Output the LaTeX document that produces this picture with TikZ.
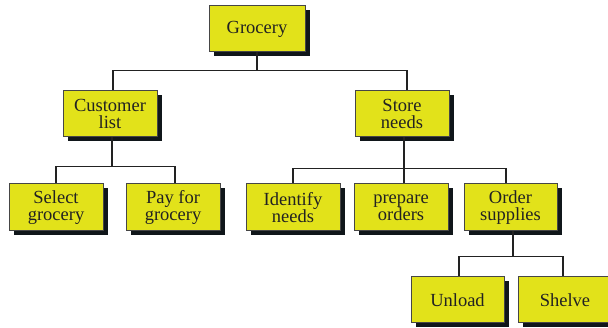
\documentclass[tikz,border=0pt]{standalone}
\usepackage{fontspec}
\setmainfont{Liberation Serif}
\usetikzlibrary{shadows}
\definecolor{boxfill}{RGB}{226,226,26}
\definecolor{boxline}{RGB}{70,70,70}
\definecolor{shadowc}{RGB}{16,22,26}
\definecolor{textc}{RGB}{34,34,34}
\tikzset{
  tbox/.style={draw=boxline, line width=1pt, fill=boxfill, text=textc,
    minimum width=94pt, minimum height=46pt, inner sep=0pt, align=center,
    font=\fontsize{18.5}{17}\selectfont,
    general shadow={fill=shadowc, shadow xshift=5pt, shadow yshift=-4.5pt}},
  conn/.style={draw=textc, line width=1.8pt}
}
\begin{document}
\begin{tikzpicture}[x=1pt,y=-1pt]
\useasboundingbox (0,0) rectangle (608,328);
\node[tbox, minimum width=96pt] (groc) at (257,29) {Grocery};
\node[tbox] (cust) at (110,114) {Customer\\list};
\node[tbox] (store) at (402,114) {Store\\needs};
\node[tbox, minimum height=47pt] (sel) at (56,207.5) {Select\\grocery};
\node[tbox, minimum height=47pt] (pay) at (173,207.5) {Pay for\\grocery};
\node[tbox, minimum height=47pt] (ident) at (293,207.5) {Identify\\needs};
\node[tbox, minimum height=47pt] (prep) at (401,207.5) {prepare\\orders};
\node[tbox, minimum height=47pt, minimum width=93pt] (order) at (510.5,207.5) {Order\\supplies};
\node[tbox, minimum width=93pt] (unload) at (457.5,300) {Unload};
\node[tbox] (shelve) at (565,300) {Shelve};
% connectors
\draw[conn] (groc.south) -- ++(0,18) -| ([xshift=3pt]cust.north);
\draw[conn] (groc.south) -- ++(0,18) -| ([xshift=5pt]store.north);
\draw[conn] ([xshift=2pt]cust.south) -- ++(0,29) -| (sel.north);
\draw[conn] ([xshift=2pt]cust.south) -- ++(0,29) -| ([xshift=2pt]pay.north);
\draw[conn] ([xshift=2pt]store.south) -- ++(0,31) -| (ident.north);
\draw[conn] ([xshift=2pt]store.south) -- ++(0,31) -| ([xshift=3pt]prep.north);
\draw[conn] ([xshift=2pt]store.south) -- ++(0,31) -| ([xshift=-4.5pt]order.north);
\draw[conn] ([xshift=2.5pt]order.south) -- ++(0,25) -| ([xshift=1.5pt]unload.north);
\draw[conn] ([xshift=2.5pt]order.south) -- ++(0,25) -| ([xshift=-2pt]shelve.north);
\end{tikzpicture}
\end{document}
